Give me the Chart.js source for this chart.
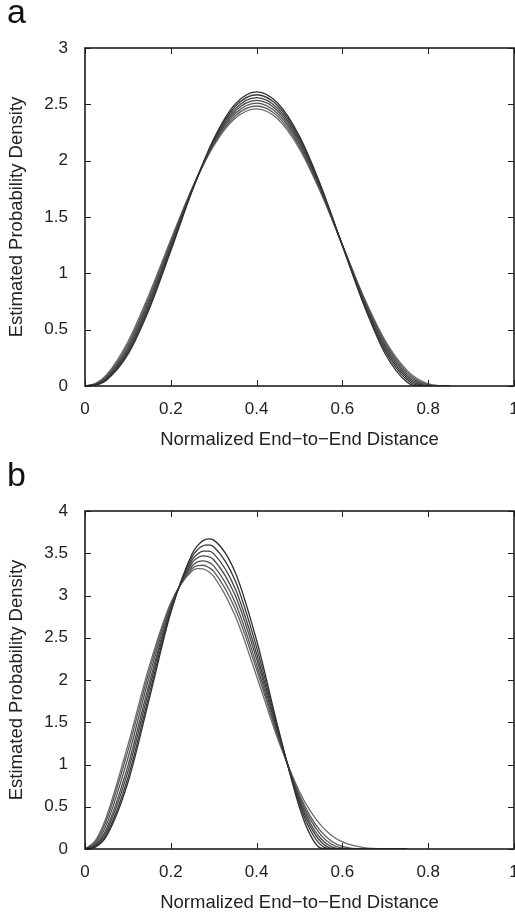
<!DOCTYPE html>
<html>
<head>
<meta charset="utf-8">
<script src="https://cdn.jsdelivr.net/npm/chart.js"></script>
<style>
  body { margin: 0; background: #fff; overflow: hidden; width: 515px; height: 917px; }
  .panel { position: absolute; left: 0; width: 515px; height: 460px; }
  .tag { position: absolute; left: 7px; font: 34px "Liberation Sans", Arial, sans-serif; color: #111; line-height: 1; }
</style>
</head>
<body>
<div class="panel" style="top:0"><canvas id="chartA" width="515" height="460"></canvas></div>
<div class="panel" style="top:463px"><canvas id="chartB" width="515" height="460"></canvas></div>
<div class="tag" style="top:-6px">a</div>
<div class="tag" style="top:457px">b</div>
<script>
// panel a: x grid and 7 density curves
var aX = [0, 0.025, 0.05, 0.1, 0.15, 0.2, 0.25, 0.3, 0.35, 0.4, 0.45, 0.5, 0.55, 0.6, 0.65, 0.7, 0.75, 0.775, 0.8, 0.825, 0.85];
var aY1 = [0, 0.009, 0.052, 0.280, 0.685, 1.200, 1.734, 2.193, 2.502, 2.610, 2.508, 2.217, 1.776, 1.246, 0.719, 0.284, 0.036, 0.001, 0, 0, 0];
var aY2 = [0, 0.010, 0.058, 0.296, 0.706, 1.217, 1.738, 2.183, 2.481, 2.585, 2.485, 2.198, 1.765, 1.247, 0.734, 0.308, 0.055, 0.007, 0, 0, 0];
var aY3 = [0, 0.012, 0.064, 0.314, 0.728, 1.233, 1.742, 2.173, 2.460, 2.560, 2.461, 2.179, 1.753, 1.248, 0.746, 0.330, 0.073, 0.016, 0, 0, 0];
var aY4 = [0, 0.014, 0.072, 0.332, 0.750, 1.249, 1.746, 2.163, 2.439, 2.535, 2.438, 2.160, 1.743, 1.249, 0.758, 0.350, 0.091, 0.027, 0.002, 0, 0];
var aY5 = [0, 0.017, 0.080, 0.351, 0.772, 1.266, 1.750, 2.153, 2.418, 2.510, 2.414, 2.141, 1.732, 1.250, 0.769, 0.369, 0.108, 0.039, 0.007, 0, 0];
var aY6 = [0, 0.019, 0.088, 0.371, 0.795, 1.282, 1.754, 2.142, 2.397, 2.485, 2.391, 2.123, 1.722, 1.251, 0.779, 0.386, 0.125, 0.051, 0.013, 0.001, 0];
var aY7 = [0, 0.023, 0.098, 0.393, 0.819, 1.299, 1.757, 2.132, 2.376, 2.460, 2.368, 2.105, 1.712, 1.252, 0.789, 0.402, 0.141, 0.064, 0.020, 0.003, 0];

// panel b
var bX = [0, 0.025, 0.05, 0.1, 0.15, 0.2, 0.25, 0.2625, 0.275, 0.2875, 0.3, 0.35, 0.4, 0.45, 0.5, 0.525, 0.55, 0.575, 0.6, 0.65, 0.7, 0.75];
var bY1 = [0, 0.025, 0.152, 0.787, 1.781, 2.797, 3.496, 3.591, 3.649, 3.670, 3.655, 3.276, 2.470, 1.439, 0.491, 0.167, 0.009, 0, 0, 0, 0, 0];
var bY2 = [0, 0.031, 0.174, 0.843, 1.836, 2.816, 3.461, 3.543, 3.589, 3.599, 3.576, 3.178, 2.386, 1.409, 0.532, 0.225, 0.047, 0, 0, 0, 0, 0];
var bY3 = [0, 0.041, 0.207, 0.915, 1.904, 2.837, 3.423, 3.492, 3.526, 3.526, 3.495, 3.084, 2.311, 1.383, 0.562, 0.271, 0.086, 0.008, 0, 0, 0, 0];
var bY4 = [0, 0.051, 0.240, 0.984, 1.966, 2.856, 3.389, 3.446, 3.469, 3.461, 3.423, 3.002, 2.248, 1.363, 0.588, 0.308, 0.121, 0.026, 0, 0, 0, 0];
var bY5 = [0, 0.069, 0.290, 1.076, 2.044, 2.879, 3.352, 3.397, 3.410, 3.394, 3.350, 2.918, 2.181, 1.340, 0.615, 0.350, 0.165, 0.056, 0.010, 0, 0, 0];
var bY6 = [0, 0.088, 0.340, 1.162, 2.113, 2.899, 3.320, 3.354, 3.358, 3.335, 3.285, 2.842, 2.122, 1.321, 0.642, 0.389, 0.208, 0.092, 0.030, 0, 0, 0];
var bY7 = [0, 0.106, 0.382, 1.230, 2.167, 2.915, 3.293, 3.318, 3.314, 3.283, 3.225, 2.759, 2.045, 1.292, 0.677, 0.450, 0.280, 0.161, 0.084, 0.016, 0.001, 0];

var xTitle = 'Normalized End\u2212to\u2212End Distance';
var yTitle = 'Estimated Probability Density';
var shades = ['#303030', '#383838', '#404040', '#484848', '#505050', '#5a5a5a', '#6c6c6c'];
var fontFamily = '"Liberation Sans", Arial, sans-serif';

// box around the plot + inward ticks on all four sides
var frame = {
  id: 'frame',
  afterDatasetsDraw: function (chart) {
    var ctx = chart.ctx, a = chart.chartArea, x = chart.scales.x, y = chart.scales.y;
    ctx.save();
    ctx.strokeStyle = '#1e1e1e';
    ctx.lineWidth = 1;
    x.ticks.forEach(function (t) {
      var px = Math.round(x.getPixelForValue(t.value)) + 0.5;
      ctx.beginPath();
      ctx.moveTo(px, a.bottom); ctx.lineTo(px, a.bottom - 6);
      ctx.moveTo(px, a.top); ctx.lineTo(px, a.top + 6);
      ctx.stroke();
    });
    y.ticks.forEach(function (t) {
      var py = Math.round(y.getPixelForValue(t.value)) + 0.5;
      ctx.beginPath();
      ctx.moveTo(a.left, py); ctx.lineTo(a.left + 6, py);
      ctx.moveTo(a.right, py); ctx.lineTo(a.right - 6, py);
      ctx.stroke();
    });
    ctx.lineWidth = 1.6;
    ctx.strokeRect(a.left, a.top, a.right - a.left, a.bottom - a.top);
    ctx.restore();
  }
};

function fmt(v) { return String(Math.round(v * 10) / 10); }

function makeChart(id, xs, series, yMax) {
  var datasets = series.map(function (ys, i) {
    return {
      data: xs.map(function (v, j) { return { x: v, y: ys[j] }; }),
      borderColor: shades[i],
      borderWidth: 1.3,
      pointRadius: 0,
      fill: false,
      cubicInterpolationMode: 'monotone'
    };
  });
  return new Chart(document.getElementById(id).getContext('2d'), {
    type: 'line',
    data: { datasets: datasets },
    plugins: [frame],
    options: {
      responsive: false,
      animation: false,
      devicePixelRatio: 1,
      layout: { padding: { top: 48, right: 1, left: 0, bottom: 0 } },
      plugins: { legend: { display: false }, tooltip: { enabled: false } },
      scales: {
        x: {
          type: 'linear', min: 0, max: 1,
          grid: { display: false, drawTicks: false }, border: { display: false },
          ticks: { stepSize: 0.2, padding: 13, color: '#222', font: { family: fontFamily, size: 17 }, callback: fmt },
          title: { display: true, text: xTitle, color: '#222', padding: { top: 0, bottom: 9 }, font: { family: fontFamily, size: 18.5 } },
          afterFit: function (s) { s.height = 74; s.paddingLeft = 0; s.paddingRight = 0; }
        },
        y: {
          min: 0, max: yMax,
          grid: { display: false, drawTicks: false }, border: { display: false },
          ticks: { stepSize: 0.5, padding: 17, color: '#222', font: { family: fontFamily, size: 17 }, callback: fmt },
          title: { display: true, text: yTitle, color: '#222', padding: { top: 6, bottom: 0 }, font: { family: fontFamily, size: 18.5 } },
          afterFit: function (s) { s.width = 85; }
        }
      }
    }
  });
}

makeChart('chartA', aX, [aY1, aY2, aY3, aY4, aY5, aY6, aY7], 3);
makeChart('chartB', bX, [bY1, bY2, bY3, bY4, bY5, bY6, bY7], 4);
</script>
</body>
</html>
